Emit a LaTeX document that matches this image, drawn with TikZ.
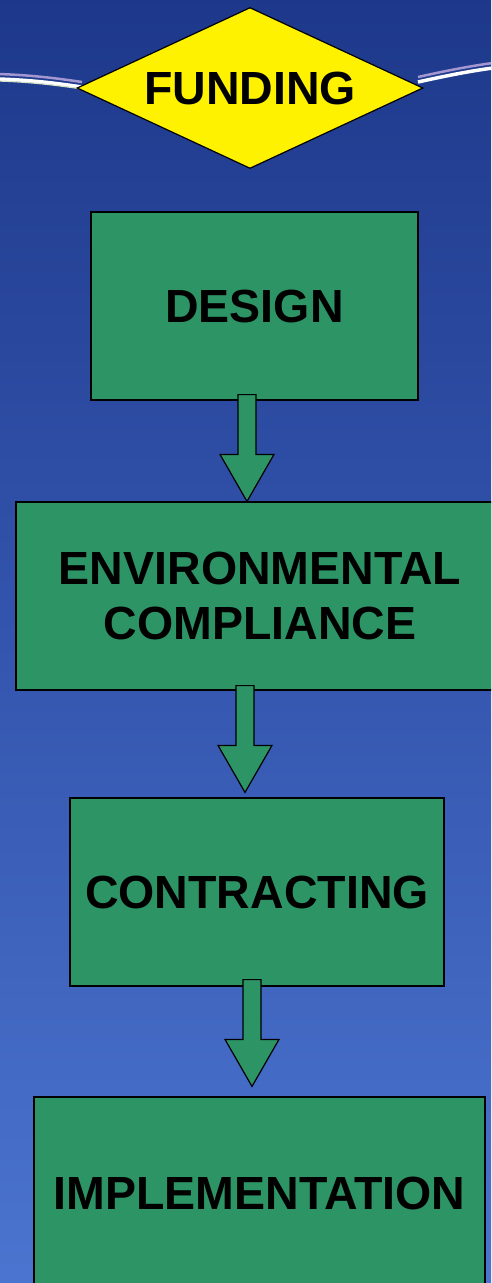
\documentclass[tikz,border=0pt]{standalone}
\usepackage{fontspec}
\setmainfont{Liberation Sans}
\usetikzlibrary{shapes.geometric,calc}
\definecolor{bgtop}{HTML}{1D388A}
\definecolor{bgmid}{HTML}{3455AE}
\definecolor{bgbot}{HTML}{4B75D0}
\definecolor{boxgreen}{HTML}{2D9466}
\definecolor{lav}{HTML}{A496D0}
\definecolor{pale}{HTML}{D8E4C8}
\tikzset{
  stagebox/.style={draw=black, line width=1.2pt, fill=boxgreen, inner sep=0pt,
    font=\fontsize{46.5}{55}\selectfont\bfseries, align=center},
  blk/.style={draw=black, line width=1.2pt, fill=boxgreen, line join=miter},
  streak/.style={line width=3.5pt, white},
  streaklav/.style={line width=2.5pt, lav}
}
\newcommand{\blockarrow}[2]{%
  \draw[blk] ($(#1)+(-9,0)$) -- ($(#1)+(9,0)$) -- ($(#2)+(9,-47)$) -- ($(#2)+(27,-47)$)
    -- (#2) -- ($(#2)+(-27,-47)$) -- ($(#2)+(-9,-47)$) -- cycle;}
\begin{document}
\begin{tikzpicture}[x=1pt,y=-1pt]
  \useasboundingbox (0,0) rectangle (491,1283);
  \clip (0,0) rectangle (491,1283);
  \shade[top color=bgtop, bottom color=bgbot, middle color=bgmid] (-10,-10) rectangle (501,1293);
  % streaks
  \draw[streak] (-2,79) .. controls (30,80) and (55,83) .. (82,87);
  \draw[line width=1.2pt, pale] (-2,81) .. controls (30,82) and (55,85) .. (82,89);
  \draw[streaklav] (-2,74) .. controls (30,75) and (55,78) .. (82,82);
  \draw[streak] (418,82) .. controls (445,76) and (470,71) .. (493,68);
  \draw[streaklav] (418,77) .. controls (445,71) and (470,66) .. (493,63);
  % nodes
  \node[diamond, draw=black, line width=1.2pt, fill=yellow, inner sep=0pt,
        minimum width=346pt, minimum height=161pt, aspect=2.15,
        font=\fontsize{46.5}{55}\selectfont\bfseries] (funding) at (250,88) {FUNDING};
  \node[stagebox, minimum width=327pt, minimum height=188pt] (design) at (254.5,306) {DESIGN};
  \node[stagebox, minimum width=500pt, minimum height=188pt] (env) at (266,596) {\hspace*{-12pt}ENVIRONMENTAL\\\hspace*{-12pt}COMPLIANCE};
  \node[stagebox, minimum width=374pt, minimum height=188pt] (contract) at (257,892) {CONTRACTING};
  \node[stagebox, minimum width=451pt, minimum height=192pt] (impl) at (259.5,1193) {IMPLEMENTATION};
  % arrow coordinates
  \coordinate (a1t) at ($(design.south)+(-7.5,-6)$);
  \coordinate (a1h) at (a1t |- env.north);
  \coordinate (a2t) at ($(env.south)+(-21,-5)$);
  \coordinate (a2h) at ($(a2t |- contract.north)+(0,-5)$);
  \coordinate (a3t) at ($(contract.south)+(-5,-7)$);
  \coordinate (a3h) at ($(a3t |- impl.north)+(0,-10)$);
  \blockarrow{a1t}{a1h}
  \blockarrow{a2t}{a2h}
  \blockarrow{a3t}{a3h}
\end{tikzpicture}
\end{document}
